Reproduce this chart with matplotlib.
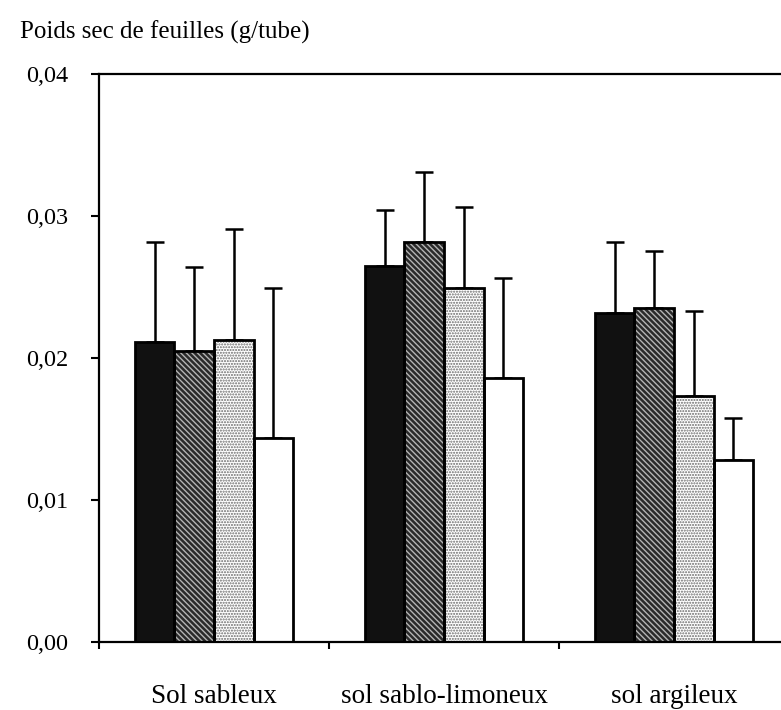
import matplotlib.pyplot as plt
from matplotlib.ticker import FuncFormatter
import numpy as np

plt.rcParams["font.family"] = ["Liberation Serif", "DejaVu Serif"]
plt.rcParams["hatch.linewidth"] = 1.0

# --- data ---
soils = ["Sol sableux", "sol sablo-limoneux", "sol argileux"]
treat_black = [0.0211, 0.0265, 0.0232]
treat_dark = [0.0205, 0.0282, 0.0235]
treat_dots = [0.0213, 0.0249, 0.0173]
treat_white = [0.0144, 0.0186, 0.0128]
err_black = [0.0071, 0.0039, 0.0050]
err_dark = [0.0059, 0.0049, 0.0040]
err_dots = [0.0078, 0.0057, 0.0060]
err_white = [0.0105, 0.0070, 0.0030]
yticks = [0.00, 0.01, 0.02, 0.03, 0.04]

series = [
    (treat_black, err_black, dict(facecolor="#111111", hatch=None, edgecolor="#111111")),
    (treat_dark, err_dark, dict(facecolor="#2a2a2a", hatch="\\\\\\\\\\\\", edgecolor="#b4b4b4")),
    (treat_dots, err_dots, dict(facecolor="white", hatch="......", edgecolor="#6a6a6a")),
    (treat_white, err_white, dict(facecolor="white", hatch=None, edgecolor="white")),
]

x = np.arange(len(soils))
width = 0.172
offsets = (np.arange(4) - 1.5) * width

fig = plt.figure(figsize=(7.81, 7.10), dpi=100)
ax = fig.add_axes([0.1268, 0.0958, 0.8835, 0.8])

for (vals, errs, style), off in zip(series, offsets):
    # fill + pattern
    ax.bar(x + off, vals, width, facecolor=style["facecolor"], hatch=style["hatch"],
           edgecolor=style["edgecolor"], linewidth=0, zorder=2)
    # outline
    ax.bar(x + off, vals, width, fill=False, edgecolor="black", linewidth=2.0, zorder=3)
    ax.errorbar(x + off, vals, yerr=[np.zeros(len(errs)), errs], fmt="none",
                ecolor="black", elinewidth=1.8, capsize=6.5, capthick=1.8, zorder=1)

ax.set_xlim(-0.5, 2.5)
ax.set_ylim(0, 0.04)
ax.set_yticks(yticks)
ax.yaxis.set_major_formatter(FuncFormatter(lambda v, p: f"{v:.2f}".replace(".", ",")))
ax.tick_params(axis="y", direction="out", length=6, width=1.5, pad=16, labelsize=17.5)

# boundary ticks without labels, category names centred under groups
ax.set_xticks([-0.5, 0.5, 1.5])
ax.set_xticklabels([])
ax.set_xticks(x, minor=True)
ax.set_xticklabels(soils, minor=True)
ax.tick_params(axis="x", which="major", direction="out", length=5, width=1.5)
ax.tick_params(axis="x", which="minor", length=0, pad=30, labelsize=19.5)

for side in ["left", "bottom", "top"]:
    ax.spines[side].set_linewidth(1.6)
ax.spines["right"].set_visible(False)

fig.text(0.026, 0.955, "Poids sec de feuilles (g/tube)", fontsize=18, va="center", ha="left")

plt.savefig("out.png", dpi=100, facecolor="white")
plt.close()
